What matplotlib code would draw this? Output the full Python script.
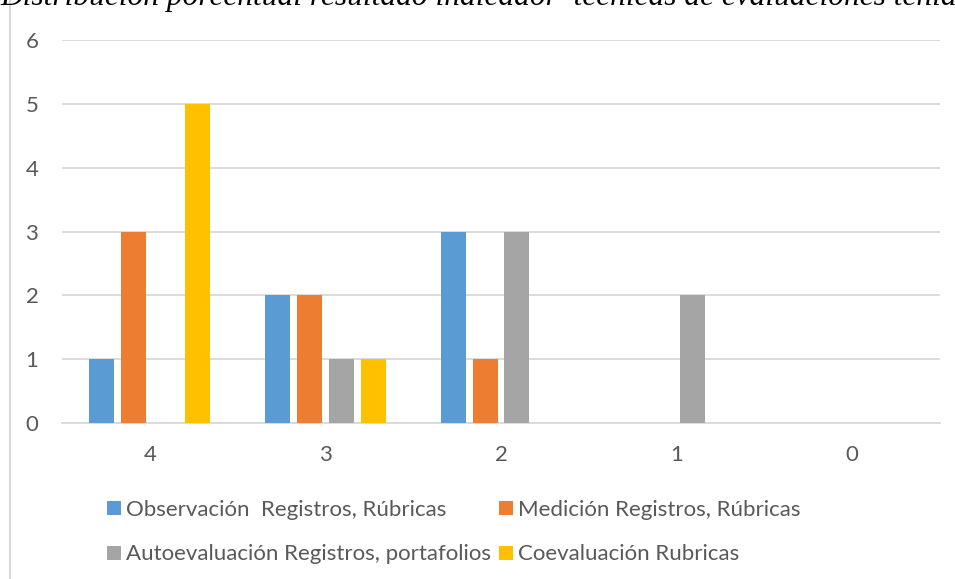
import matplotlib.pyplot as plt
from matplotlib.patches import Rectangle

categories = ['4', '3', '2', '1', '0']
observacion = [1, 2, 3, 0, 0]
medicion = [3, 2, 1, 0, 0]
autoevaluacion = [0, 1, 3, 2, 0]
coevaluacion = [5, 1, 0, 0, 0]

names = ['Observación  Registros, Rúbricas', 'Medición Registros, Rúbricas',
         'Autoevaluación Registros, portafolios', 'Coevaluación Rubricas']
colors = ['#5B9BD5', '#ED7D31', '#A5A5A5', '#FFC000']
series = [observacion, medicion, autoevaluacion, coevaluacion]

plt.rcParams['font.family'] = ['Lato', 'DejaVu Sans']
text_color = '#595959'
grid_color = '#D9D9D9'

fig = plt.figure(figsize=(9.55, 5.79), dpi=100)
ax = fig.add_axes([62 / 955, 1 - 423 / 579, 878 / 955, 383 / 579])

# chart frame, runs off the right and bottom of the picture
fig.patches.append(Rectangle((10 / 955, -0.2), 1.2, 1.2 + (1 - 11 / 579),
                             transform=fig.transFigure, fill=False,
                             edgecolor=grid_color, linewidth=1.5, clip_on=False))

# title sits mostly above the picture, as in the source
fig.text(0.0, 1 - 5 / 579,
         'Distribución porcentual resultado indicador  técnicas de evaluaciones tenidas',
         family='Liberation Serif', style='italic', fontsize=22.6,
         ha='left', va='baseline', color='black')

x = list(range(len(categories)))
width = 25 / 176
step = 32 / 176
bars = []
for i, (vals, name, col) in enumerate(zip(series, names, colors)):
    off = (i - 1.5) * step
    b = ax.bar([p + off for p in x], vals, width=width, color=col, label=name, zorder=3)
    bars.append(b)

ax.set_xlim(-0.5, 4.5)
ax.set_ylim(0, 6)
ax.set_xticks(x)
ax.set_xticklabels(categories)
ax.set_yticks(range(0, 7))
ax.tick_params(axis='both', length=0, labelsize=16, colors=text_color)
ax.tick_params(axis='y', pad=17)
ax.tick_params(axis='x', pad=16)
ax.grid(axis='y', color=grid_color, linewidth=1.3, zorder=0)
for s in ['top', 'right', 'left']:
    ax.spines[s].set_visible(False)
ax.spines['bottom'].set_color(grid_color)
ax.spines['bottom'].set_linewidth(1.3)

order = [0, 2, 1, 3]
leg = fig.legend([bars[k] for k in order], [names[k] for k in order],
                 ncol=2, loc='upper left', bbox_to_anchor=(107 / 955, 1 - 500 / 579),
                 frameon=False, fontsize=16, borderpad=0, borderaxespad=0,
                 handlelength=0.62, handleheight=0.58, handletextpad=0.22,
                 columnspacing=0.38, labelspacing=1.1)
for t in leg.get_texts():
    t.set_color(text_color)

fig.savefig('out.png', dpi=100)
